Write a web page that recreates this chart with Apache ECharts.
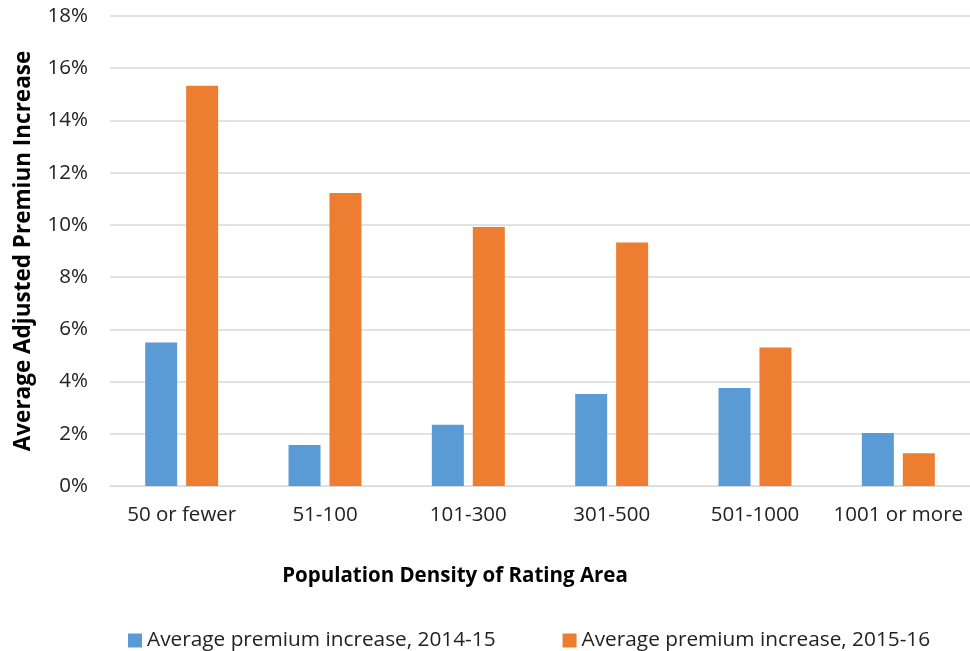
<!DOCTYPE html>
<html><head><meta charset="utf-8">
<script src="https://cdn.jsdelivr.net/npm/echarts@6/dist/echarts.min.js"></script>
<style>html,body{margin:0;padding:0;background:#fff}#c{width:970px;height:651px}</style>
</head><body><div id="c"></div>
<script>
const categories = ['50 or fewer','51-100','101-300','301-500','501-1000','1001 or more'];
const series2014 = [5.5, 1.57, 2.35, 3.52, 3.75, 2.03];
const series2015 = [15.33, 11.22, 9.92, 9.33, 5.3, 1.25];
const seriesNames = ['Average premium increase, 2014-15','Average premium increase, 2015-16'];
const font = '"Open Sans", "Liberation Sans", sans-serif';
const chart = echarts.init(document.getElementById('c'), null, {renderer:'canvas'});
chart.setOption({
  animation:false,
  color:['#5b9bd5','#ed7d31'],
  grid:{left:110, right:0, top:16, bottom:165, containLabel:false},
  legend:{
    left:123, top:625, itemWidth:14, itemHeight:14, itemGap:67, icon:'rect',
    textStyle:{fontFamily:font, fontSize:20.8, color:'#222'},
    data:seriesNames
  },
  graphic:[{type:'text', style:{text:'Population Density of Rating Area', x:455, y:576, textAlign:'center', textVerticalAlign:'middle', font:'bold 20.5px '+font, fill:'#000'}}],
  xAxis:{
    type:'category', data:categories,
    axisLine:{lineStyle:{color:'#d9d9d9', width:1}},
    axisTick:{show:false},
    axisLabel:{fontFamily:font, fontSize:20.5, color:'#222', margin:19, interval:0}
  },
  yAxis:{
    type:'value', min:0, max:18, interval:2,
    name:'Average Adjusted Premiun Increase', nameLocation:'middle', nameGap:75,
    nameTextStyle:{fontFamily:font, fontSize:22.5, fontWeight:'bold', color:'#000'},
    axisLabel:{fontFamily:font, fontSize:20.5, color:'#222', margin:22, formatter:'{value}%'},
    splitLine:{lineStyle:{color:'#d9d9d9', width:1.5}},
    axisLine:{show:false}, axisTick:{show:false}
  },
  series:[
    {name:seriesNames[0], type:'bar', data:series2014, barWidth:32, barGap:'28%'},
    {name:seriesNames[1], type:'bar', data:series2015, barWidth:32, barGap:'28%'}
  ]
});
</script></body></html>
